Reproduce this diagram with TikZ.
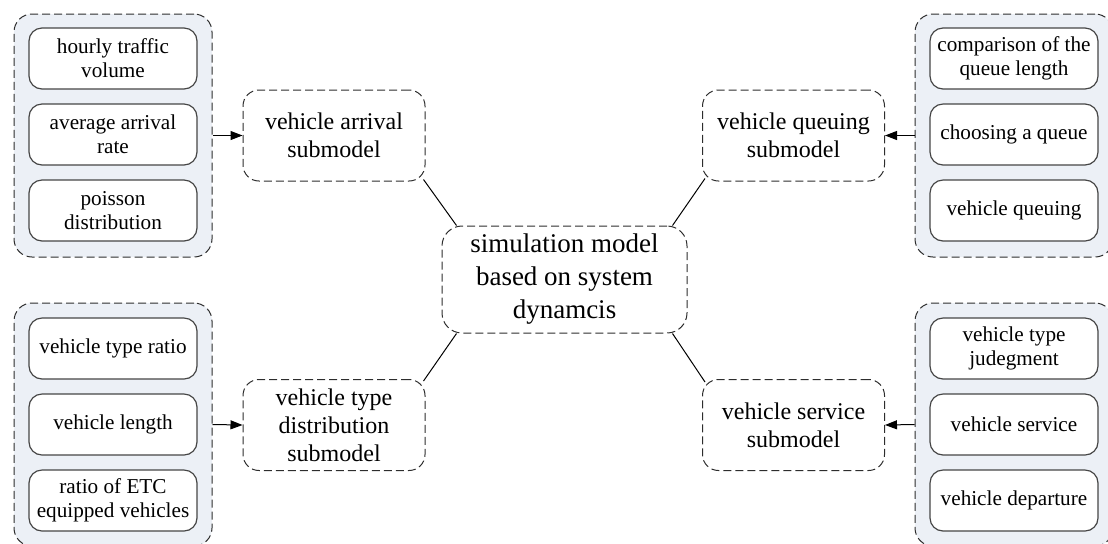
\documentclass[tikz,border=0pt]{standalone}
\usepackage{fontspec}
\setmainfont{Liberation Serif}
\usetikzlibrary{arrows.meta,calc}
\definecolor{grpfill}{RGB}{236,240,246}
\definecolor{edgec}{RGB}{45,45,45}
\definecolor{itemedge}{RGB}{70,70,70}
\begin{document}
\begin{tikzpicture}[x=0.5pt,y=-0.5pt,
  grp/.style={draw=edgec, dash pattern=on 4pt off 2pt, fill=grpfill, rounded corners=9pt, line width=0.5pt, minimum width=99pt, minimum height=121.5pt, inner sep=0pt},
  item/.style={draw=itemedge, fill=white, rounded corners=6.5pt, line width=0.6pt, minimum width=84pt, minimum height=30.5pt, inner sep=0pt, align=center, font=\fontsize{10.6}{12}\selectfont},
  sub/.style={draw=edgec, dash pattern=on 4pt off 2pt, rounded corners=8pt, line width=0.5pt, minimum width=91pt, minimum height=45.5pt, inner sep=0pt, align=center, font=\fontsize{12}{14}\selectfont},
  hub/.style={draw=edgec, dash pattern=on 4pt off 2pt, rounded corners=10pt, line width=0.5pt, minimum width=122.5pt, minimum height=53.5pt, inner sep=0pt, align=center, font=\fontsize{13.5}{16.5}\selectfont},
  arr/.style={-{Triangle[length=6pt,width=4.5pt]}, line width=0.5pt, draw=black},
  link/.style={line width=0.5pt, draw=black}]
\clip (0,0) rectangle (1108,543);
% groups
\node[grp] (gtl) at (113,135.5) {};
\node[grp] (gbl) at (113,424.5) {};
\node[grp] (gtr) at (1014,135.5) {};
\node[grp] (gbr) at (1014,424.5) {};
% items left top
\node[item] (a1) at (113,58.5) {hourly traffic\\volume};
\node[item] (a2) at (113,134.5) {average arrival\\rate};
\node[item] (a3) at (113,210.5) {poisson\\distribution};
% items left bottom
\node[item] (b1) at (113,348.5) {vehicle type ratio};
\node[item] (b2) at (113,424.5) {vehicle length};
\node[item] (b3) at (113,500.5) {ratio of ETC\\equipped vehicles};
% items right top
\node[item] (c1) at (1014,58.5) {comparison of the\\queue length};
\node[item] (c2) at (1014,134.5) {choosing a queue};
\node[item] (c3) at (1014,210.5) {vehicle queuing};
% items right bottom
\node[item] (d1) at (1014,348.5) {vehicle type\\judegment};
\node[item] (d2) at (1014,424.5) {vehicle service};
\node[item] (d3) at (1014,500.5) {vehicle departure};
% submodels
\node[sub] (arrival) at (334,135.5) {vehicle arrival\\submodel};
\node[sub] (vtype) at (334,425) {vehicle type\\distribution\\submodel};
\node[sub] (queue) at (793.5,135.5) {vehicle queuing\\submodel};
\node[sub] (service) at (793.5,425) {vehicle service\\submodel};
% hub
\node[hub] (hub) at (564.5,279.5) {simulation model\\based on system\\dynamcis};
% arrows
\draw[arr] (gtl.east) -- (arrival.west);
\draw[arr] (gbl.east) -- (vtype.west);
\draw[arr] (gtr.west) -- (queue.east);
\draw[arr] (gbr.west) -- (service.east);
% links
\draw[link] ($(arrival.south east)+(-2,-2)$) -- ($(hub.north west)+(15,0)$);
\draw[link] ($(vtype.north east)+(-2,2)$) -- ($(hub.south west)+(15,0)$);
\draw[link] ($(queue.south west)+(3,-3)$) -- ($(hub.north east)+(-15,0)$);
\draw[link] ($(service.north west)+(3,3)$) -- ($(hub.south east)+(-15,0)$);
\end{tikzpicture}
\end{document}
